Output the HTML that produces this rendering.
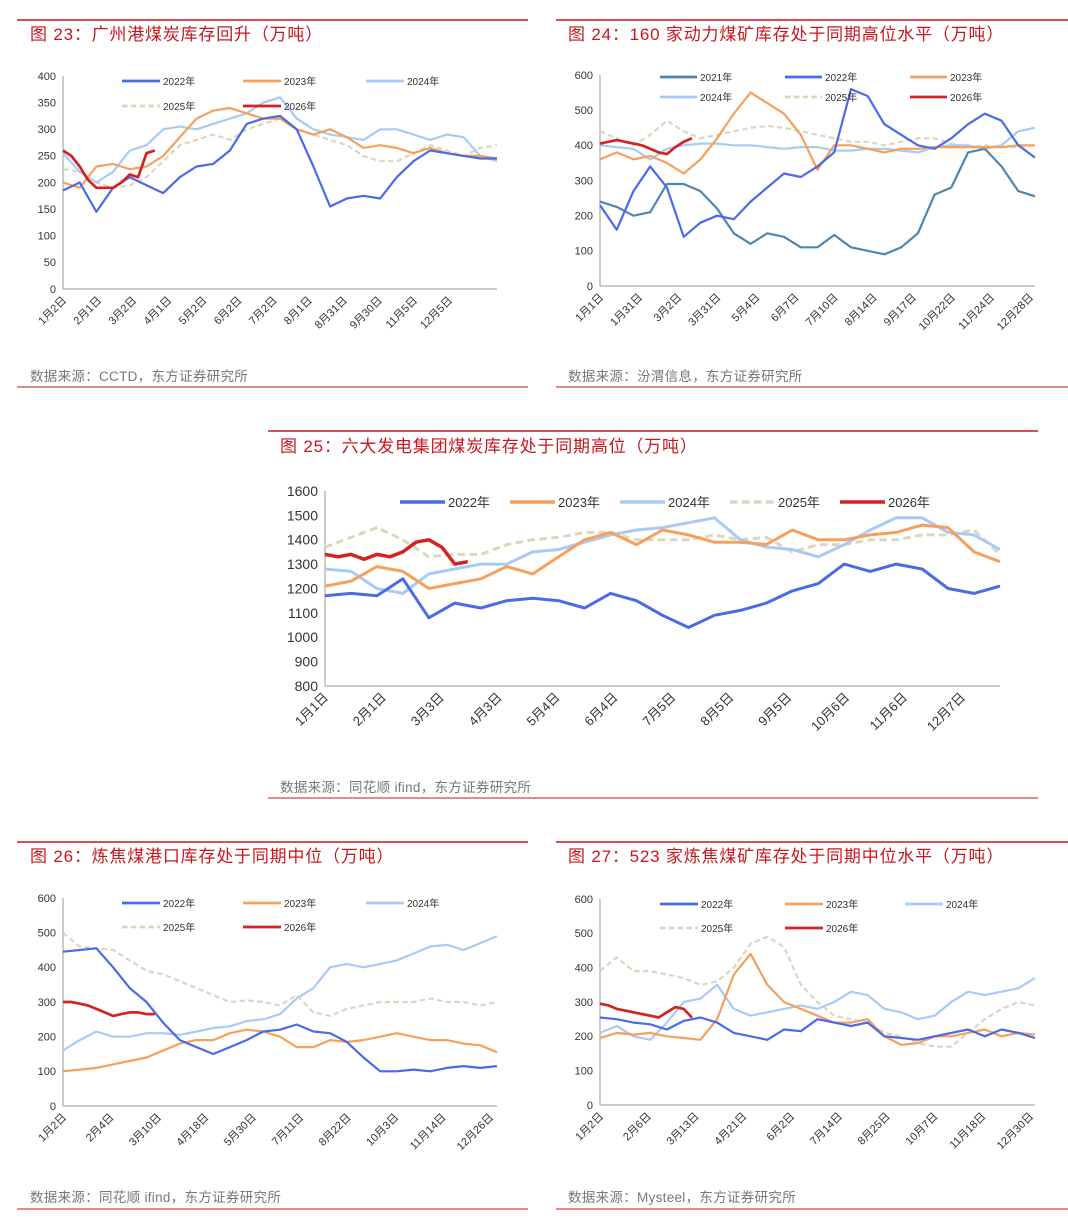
<!DOCTYPE html>
<html><head><meta charset="utf-8">
<style>
html,body{margin:0;padding:0;background:#fff;}
svg{display:block;font-family:"Liberation Sans","Noto Sans CJK SC",sans-serif;}
.ttl{fill:#c8161d;font-size:17px;letter-spacing:0.8px;}
.src{fill:#777;font-size:13.5px;letter-spacing:0.3px;}
.tick{fill:#333;}
</style></head>
<body>
<svg id="page" width="1068" height="1227" viewBox="0 0 1068 1227">
<g>
<line x1="17" y1="20" x2="528" y2="20" stroke="#c8161d" stroke-width="1.5"/>
<text class="ttl" x="30" y="40">图 23：广州港煤炭库存回升（万吨）</text>
<text class="src" x="30" y="381">数据来源：CCTD，东方证券研究所</text>
<line x1="17" y1="387" x2="528" y2="387" stroke="#c8161d" stroke-width="1"/>
</g>
<g>
<line x1="556" y1="20" x2="1068" y2="20" stroke="#c8161d" stroke-width="1.5"/>
<text class="ttl" x="568" y="40">图 24：160 家动力煤矿库存处于同期高位水平（万吨）</text>
<text class="src" x="568" y="381">数据来源：汾渭信息，东方证券研究所</text>
<line x1="556" y1="387" x2="1068" y2="387" stroke="#c8161d" stroke-width="1"/>
</g>
<g>
<line x1="268" y1="431" x2="1038" y2="431" stroke="#c8161d" stroke-width="1.5"/>
<text class="ttl" x="280" y="452">图 25：六大发电集团煤炭库存处于同期高位（万吨）</text>
<text class="src" x="280" y="792">数据来源：同花顺 ifind，东方证券研究所</text>
<line x1="268" y1="798" x2="1038" y2="798" stroke="#c8161d" stroke-width="1"/>
</g>
<g>
<line x1="17" y1="842" x2="528" y2="842" stroke="#c8161d" stroke-width="1.5"/>
<text class="ttl" x="30" y="862">图 26：炼焦煤港口库存处于同期中位（万吨）</text>
<text class="src" x="30" y="1202">数据来源：同花顺 ifind，东方证券研究所</text>
<line x1="17" y1="1209" x2="528" y2="1209" stroke="#c8161d" stroke-width="1"/>
</g>
<g>
<line x1="556" y1="842" x2="1068" y2="842" stroke="#c8161d" stroke-width="1.5"/>
<text class="ttl" x="568" y="862">图 27：523 家炼焦煤矿库存处于同期中位水平（万吨）</text>
<text class="src" x="568" y="1202">数据来源：Mysteel，东方证券研究所</text>
<line x1="556" y1="1209" x2="1068" y2="1209" stroke="#c8161d" stroke-width="1"/>
</g>
</svg>
<script>
// ---- Chart 23 data ----
const c23Ticks=[0,50,100,150,200,250,300,350,400];
const c23Cats=["1月2日","2月1日","3月2日","4月1日","5月2日","6月2日","7月2日","8月1日","8月31日","9月30日","11月5日","12月5日"];
const c23_2022=[185,200,145,190,210,195,180,210,230,235,260,310,320,325,300,230,155,170,175,170,210,240,260,255,250,245,245];
const c23_2023=[200,190,230,235,225,230,250,285,320,335,340,330,320,320,300,290,300,285,265,270,265,255,265,255,250,250,245];
const c23_2024=[255,220,200,220,260,270,300,305,300,310,320,330,350,360,320,300,290,285,280,300,300,290,280,290,285,250,240];
const c23_2025=[225,220,200,190,195,210,240,270,280,290,280,300,310,320,300,290,280,270,250,240,240,255,270,260,250,265,270];
const c23_2026=[260,250,230,205,190,190,190,200,215,210,255,260];
// ---- Chart 24 data ----
const c24Ticks=[0,100,200,300,400,500,600];
const c24Cats=["1月1日","1月31日","3月2日","3月31日","5月4日","6月7日","7月10日","8月14日","9月17日","10月22日","11月24日","12月28日"];
const c24_2021=[240,225,200,210,290,290,270,220,150,120,150,140,110,110,145,110,100,90,110,150,260,280,380,390,340,270,255];
const c24_2022=[230,160,270,340,280,140,180,200,190,240,280,320,310,340,380,560,540,460,430,400,390,420,460,490,470,400,365];
const c24_2023=[360,380,360,370,350,320,360,420,490,550,520,490,430,330,400,400,390,380,390,390,395,395,395,395,395,400,400];
const c24_2024=[400,395,390,360,390,400,405,405,400,400,395,390,395,395,385,385,390,390,385,380,395,400,400,390,400,440,450];
const c24_2025=[440,420,400,430,470,440,420,430,440,450,455,450,440,430,420,410,410,400,410,420,420,405,395,400,395,395,400];
const c24_2026=[405,410,415,410,405,400,390,380,375,395,410,420];
// ---- Chart 25 data ----
const c25Ticks=[800,900,1000,1100,1200,1300,1400,1500,1600];
const c25Cats=["1月1日","2月1日","3月3日","4月3日","5月4日","6月4日","7月5日","8月5日","9月5日","10月6日","11月6日","12月7日"];
const c25_2022=[1170,1180,1170,1240,1080,1140,1120,1150,1160,1150,1120,1180,1150,1090,1040,1090,1110,1140,1190,1220,1300,1270,1300,1280,1200,1180,1210];
const c25_2023=[1210,1230,1290,1270,1200,1220,1240,1290,1260,1330,1400,1430,1380,1440,1420,1390,1390,1380,1440,1400,1400,1420,1430,1460,1450,1350,1310];
const c25_2024=[1280,1270,1200,1180,1260,1280,1300,1300,1350,1360,1390,1420,1440,1450,1470,1490,1400,1370,1360,1330,1380,1440,1490,1490,1430,1420,1360];
const c25_2025=[1370,1410,1450,1400,1330,1340,1340,1380,1400,1410,1430,1430,1400,1400,1400,1420,1400,1410,1350,1380,1380,1400,1400,1420,1420,1440,1340];
const c25_2026=[1340,1330,1340,1320,1340,1330,1350,1390,1400,1370,1300,1310];
// ---- Chart 26 data ----
const c26Ticks=[0,100,200,300,400,500,600];
const c26Cats=["1月2日","2月4日","3月10日","4月18日","5月30日","7月11日","8月22日","10月3日","11月14日","12月26日"];
const c26_2022=[445,450,455,400,340,300,240,190,170,150,170,190,215,220,235,215,210,185,140,100,100,105,100,110,115,110,115];
const c26_2023=[100,105,110,120,130,140,160,180,190,190,210,220,215,200,170,170,190,185,190,200,210,200,190,190,180,175,155];
const c26_2024=[160,190,215,200,200,210,210,205,215,225,230,245,250,265,310,340,400,410,400,410,420,440,460,465,450,470,490];
const c26_2025=[500,460,455,450,420,390,380,360,340,320,300,305,300,290,320,270,260,280,290,300,300,300,310,300,300,290,300];
const c26_2026=[300,300,295,290,280,270,260,265,270,270,265,265];
// ---- Chart 27 data ----
const c27Ticks=[0,100,200,300,400,500,600];
const c27Cats=["1月2日","2月6日","3月13日","4月21日","6月2日","7月14日","8月25日","10月7日","11月18日","12月30日"];
const c27_2022=[255,250,240,235,220,245,255,240,210,200,190,220,215,250,240,230,240,200,195,190,200,210,220,200,220,210,195];
const c27_2023=[195,210,205,210,200,195,190,250,380,440,350,300,280,260,240,240,250,200,175,180,200,200,210,220,200,210,205];
const c27_2024=[210,230,200,190,240,300,310,350,280,260,270,280,290,280,300,330,320,280,270,250,260,300,330,320,330,340,370];
const c27_2025=[390,430,390,390,380,370,350,360,400,470,490,460,350,300,260,250,240,210,200,180,170,170,210,250,280,300,290];
const c27_2026=[295,290,280,275,270,265,260,255,270,285,280,255];

const NS="http://www.w3.org/2000/svg";
const svg=document.getElementById('page');
function mk(tag,attrs,parent){const e=document.createElementNS(NS,tag);for(const k in attrs)e.setAttribute(k,attrs[k]);(parent||svg).appendChild(e);return e;}
const COL={"2021":"#4f86b0","2022":"#4a6ae8","2023":"#f5a05c","2024":"#a8cbf5","2025":"#ddd6bf","2026":"#d42222"};

function drawChart(id,box,ticks,cats,catX1,series,legend,fs,lw,xfs){
  const g=mk('g',{});
  
  
  const tmin=ticks[0],tmax=ticks[ticks.length-1];
  const yS=v=>box.y1-(v-tmin)/(tmax-tmin)*(box.y1-box.y0);
  const xS=i=>box.x0+i*(box.x1-box.x0)/26;
  const ya=mk('line',{x1:box.x0,y1:box.y0,x2:box.x0,y2:box.y1,stroke:'#999','stroke-width':1},g);
  
  
  const xa=mk('line',{x1:box.x0,y1:box.y1,x2:box.x1,y2:box.y1,stroke:'#999','stroke-width':1},g);
  
  
  ticks.forEach(t=>{
    const tx=mk('text',{x:box.x0-7,y:yS(t)+fs*0.35,'text-anchor':'end','font-size':fs,class:'tick'},g);
    tx.textContent=t;
    
    
  });
  const xf=xfs||fs;
  cats.forEach((c,i)=>{
    const x=box.x0+i*(catX1-box.x0)/(cats.length-1)+4, y=box.y1+12;
    const tx=mk('text',{x:x,y:y,'text-anchor':'end','font-size':xf,class:'tick',transform:`rotate(-45 ${x} ${y})`},g);
    tx.textContent=c;
    
    
  });
  series.forEach(s=>{
    const step=s.weekly?0.5:1;
    const pts=s.data.map((v,i)=>xS(i*step).toFixed(1)+','+yS(v).toFixed(1)).join(' ');
    const pl=mk('polyline',{points:pts,fill:'none',stroke:COL[s.name],'stroke-width':s.name==='2026'?lw+0.5:lw,'stroke-linejoin':'round','stroke-dasharray':s.name==='2025'?(lw*2.5)+','+(lw*1.5):'none'},g);
    
    
  });
  legend.forEach(L=>{
    const ll=mk('line',{x1:L.x,y1:L.y,x2:L.x+L.w,y2:L.y,stroke:COL[L.name],'stroke-width':lw+0.5,'stroke-dasharray':L.name==='2025'?(lw*2.5)+','+(lw*1.5):'none'},g);
    
    
    const lt=mk('text',{x:L.x+L.w+3,y:L.y+fs*0.35,'font-size':L.fs||fs-1,fill:'#333'},g);
    lt.textContent=L.name+'年';
    
    
  });
}
function S(names,arrs){return names.map((n,i)=>({name:n,data:arrs[i],weekly:n==='2026'}));}

drawChart('chart-23',{x0:63,x1:497,y0:76,y1:289},c23Ticks,c23Cats,449,
  S(['2025','2024','2023','2022','2026'],[c23_2025,c23_2024,c23_2023,c23_2022,c23_2026]),
  [{name:'2022',x:122,y:81,w:38},{name:'2023',x:243,y:81,w:38},{name:'2024',x:366,y:81,w:38},{name:'2025',x:122,y:106,w:38},{name:'2026',x:243,y:106,w:38}],11,2.2);
drawChart('chart-24',{x0:600,x1:1035,y0:75,y1:286},c24Ticks,c24Cats,1030,
  S(['2025','2024','2021','2023','2022','2026'],[c24_2025,c24_2024,c24_2021,c24_2023,c24_2022,c24_2026]),
  [{name:'2021',x:660,y:77,w:37},{name:'2022',x:785,y:77,w:37},{name:'2023',x:910,y:77,w:37},{name:'2024',x:660,y:97,w:37},{name:'2025',x:785,y:97,w:37},{name:'2026',x:910,y:97,w:37}],11,2.2);
drawChart('chart-25',{x0:325,x1:1000,y0:491,y1:686},c25Ticks,c25Cats,962,
  S(['2025','2024','2023','2022','2026'],[c25_2025,c25_2024,c25_2023,c25_2022,c25_2026]),
  [{name:'2022',x:400,y:502,w:45,fs:13},{name:'2023',x:510,y:502,w:45,fs:13},{name:'2024',x:620,y:502,w:45,fs:13},{name:'2025',x:730,y:502,w:45,fs:13},{name:'2026',x:840,y:502,w:45,fs:13}],14,3,13);
drawChart('chart-26',{x0:63,x1:497,y0:898,y1:1106},c26Ticks,c26Cats,490,
  S(['2025','2024','2023','2022','2026'],[c26_2025,c26_2024,c26_2023,c26_2022,c26_2026]),
  [{name:'2022',x:122,y:903,w:38},{name:'2023',x:243,y:903,w:38},{name:'2024',x:366,y:903,w:38},{name:'2025',x:122,y:927,w:38},{name:'2026',x:243,y:927,w:38}],11,2.2);
drawChart('chart-27',{x0:600,x1:1035,y0:899,y1:1105},c27Ticks,c27Cats,1030,
  S(['2025','2024','2023','2022','2026'],[c27_2025,c27_2024,c27_2023,c27_2022,c27_2026]),
  [{name:'2022',x:660,y:904,w:38},{name:'2023',x:785,y:904,w:38},{name:'2024',x:905,y:904,w:38},{name:'2025',x:660,y:928,w:38},{name:'2026',x:785,y:928,w:38}],11,2.2);
</script>
</body></html>
